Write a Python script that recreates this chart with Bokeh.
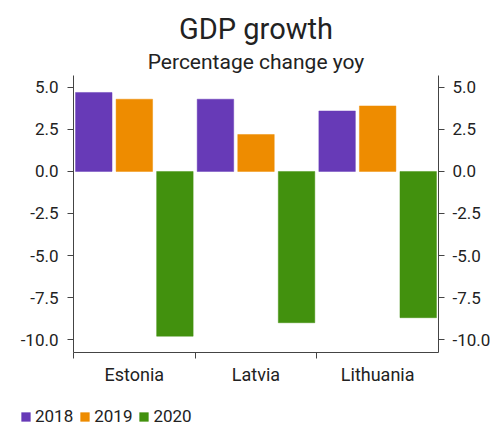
from bokeh.plotting import figure
from bokeh.layouts import column, row
from bokeh.models import (ColumnDataSource, Range1d, FixedTicker, LinearAxis,
                          NumeralTickFormatter, Legend, LegendItem, Title)
from bokeh.transform import dodge
from bokeh.embed import file_html
from bokeh.resources import INLINE

countries = ["Estonia", "Latvia", "Lithuania"]
years = ["2018", "2019", "2020"]
gdp_2018 = [4.7, 4.3, 3.6]
gdp_2019 = [4.3, 2.2, 3.9]
gdp_2020 = [-9.8, -9.0, -8.7]
y_ticks = [-10, -7.5, -5, -2.5, 0, 2.5, 5]
colors = ["#673ab7", "#ee8c00", "#42910e"]

FONT = "Roboto"
TXT = "#222222"
AX = "#444444"

src = ColumnDataSource(dict(
    xc=[i + 0.5 for i in range(len(countries))],
    y2018=gdp_2018, y2019=gdp_2019, y2020=gdp_2020,
))

p = figure(width=501, height=395, output_backend="svg", toolbar_location=None,
           title=None, x_range=Range1d(0, 3), y_range=Range1d(-10.77, 5.71),
           min_border_left=73, min_border_right=63, min_border_bottom=43,
           min_border_top=75, x_axis_location=None, y_axis_location=None)
p.outline_line_color = None
p.xgrid.visible = False
p.ygrid.visible = False
p.background_fill_color = "white"
p.border_fill_color = "white"

for j, (yr, col) in enumerate(zip(years, colors)):
    p.vbar(x=dodge("xc", (j - 1) / 3, range=p.x_range), width=0.3,
           top="y" + yr, bottom=0, source=src,
           fill_color=col, line_color=col, line_alpha=0.45, line_width=1)

def style_y(ax, standoff):
    ax.ticker = FixedTicker(ticks=y_ticks)
    ax.formatter = NumeralTickFormatter(format="0.0")
    ax.major_tick_out = 6
    ax.major_tick_in = 0
    ax.minor_tick_out = 0
    ax.minor_tick_in = 0
    ax.axis_line_color = AX
    ax.major_tick_line_color = AX
    ax.major_label_standoff = standoff
    ax.major_label_text_font = FONT
    ax.major_label_text_font_size = "17px"
    ax.major_label_text_color = TXT

yl = LinearAxis()
style_y(yl, 9)
p.add_layout(yl, "left")
yr_ax = LinearAxis()
style_y(yr_ax, 8)
p.add_layout(yr_ax, "right")

xa = LinearAxis()
xa.ticker = FixedTicker(ticks=[i + 0.5 for i in range(len(countries))],
                        minor_ticks=[float(i) for i in range(len(countries))])
xa.major_label_overrides = {i + 0.5: c for i, c in enumerate(countries)}
xa.major_tick_out = 0
xa.major_tick_in = 0
xa.minor_tick_out = 6
xa.minor_tick_in = 0
xa.minor_tick_line_color = AX
xa.axis_line_color = AX
xa.major_label_standoff = 5
xa.major_label_text_font = FONT
xa.major_label_text_font_size = "18px"
xa.major_label_text_color = TXT
p.add_layout(xa, "below")

sub = Title(text="Percentage change yoy", align="center", text_font=FONT,
            text_font_size="21px", text_font_style="normal", text_color=TXT,
            standoff=4)
p.add_layout(sub, "above")
main = Title(text="GDP growth", align="center", text_font=FONT,
             text_font_size="29px", text_font_style="normal", text_color=TXT,
             standoff=0)
p.add_layout(main, "above")

# legend strip: same data, drawn outside its visible range, used only for the key
lf = figure(width=501, height=31, output_backend="svg", toolbar_location=None,
            title=None, x_range=Range1d(0, 3), y_range=Range1d(100, 101),
            min_border_left=0, min_border_right=0, min_border_top=0,
            min_border_bottom=0, x_axis_location=None, y_axis_location=None)
lf.outline_line_color = None
lf.xgrid.visible = False
lf.ygrid.visible = False
keys = []
for j, (yr, col) in enumerate(zip(years, colors)):
    r = lf.vbar(x=dodge("xc", (j - 1) / 3, range=lf.x_range), width=0.3,
                top="y" + yr, bottom=0, source=src,
                fill_color=col, line_color=col, line_alpha=0.45, line_width=1)
    keys.append(LegendItem(label=yr, renderers=[r]))

legend = Legend(items=keys, orientation="horizontal", location=(20, 0),
                glyph_width=11, glyph_height=11, label_standoff=4, spacing=6,
                padding=0, margin=0, border_line_color=None,
                background_fill_alpha=0,
                label_text_font=FONT, label_text_font_size="17px",
                label_text_color=TXT)
lf.add_layout(legend, "center")

open("out.html", "w").write(file_html(column(p, row(lf, spacing=0), spacing=0), INLINE))
